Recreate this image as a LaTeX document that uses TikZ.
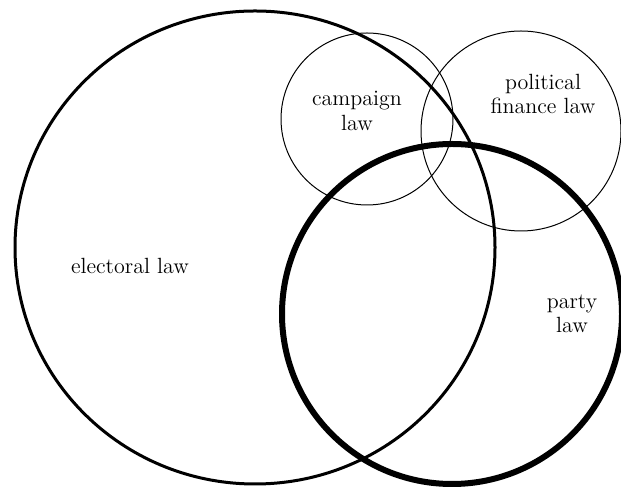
\documentclass[tikz,border=0pt]{standalone}
\usepackage{tikz}
\usetikzlibrary{backgrounds}
\begin{document}
\begin{tikzpicture}[x=0.5pt,y=-0.5pt,
  thinring/.style={draw,line width=0.5pt},
  midring/.style={draw,line width=1.5pt},
  thickring/.style={draw,line width=3pt},
  lbl/.style={align=center,font=\fontsize{11}{12.2}\selectfont,inner sep=1pt}]
\useasboundingbox (0,0) rectangle (621,490);
\fill[white] (0,0) rectangle (621,490);
\draw[midring] (255,247.5) ellipse [x radius=240, y radius=236.5];
\draw[thinring] (367,119) circle [radius=86];
\draw[thinring] (521,131) circle [radius=100];
\draw[thickring] (452,314) circle [radius=170];
\node[lbl] (electoral) at (130,266) {electoral law};
\node[lbl] (campaign) at (357,111) {campaign\\law};
\node[lbl] (finance) at (543,94) {political\\finance law};
\node[lbl] (party) at (572,314) {party\\law};
\end{tikzpicture}
\end{document}
